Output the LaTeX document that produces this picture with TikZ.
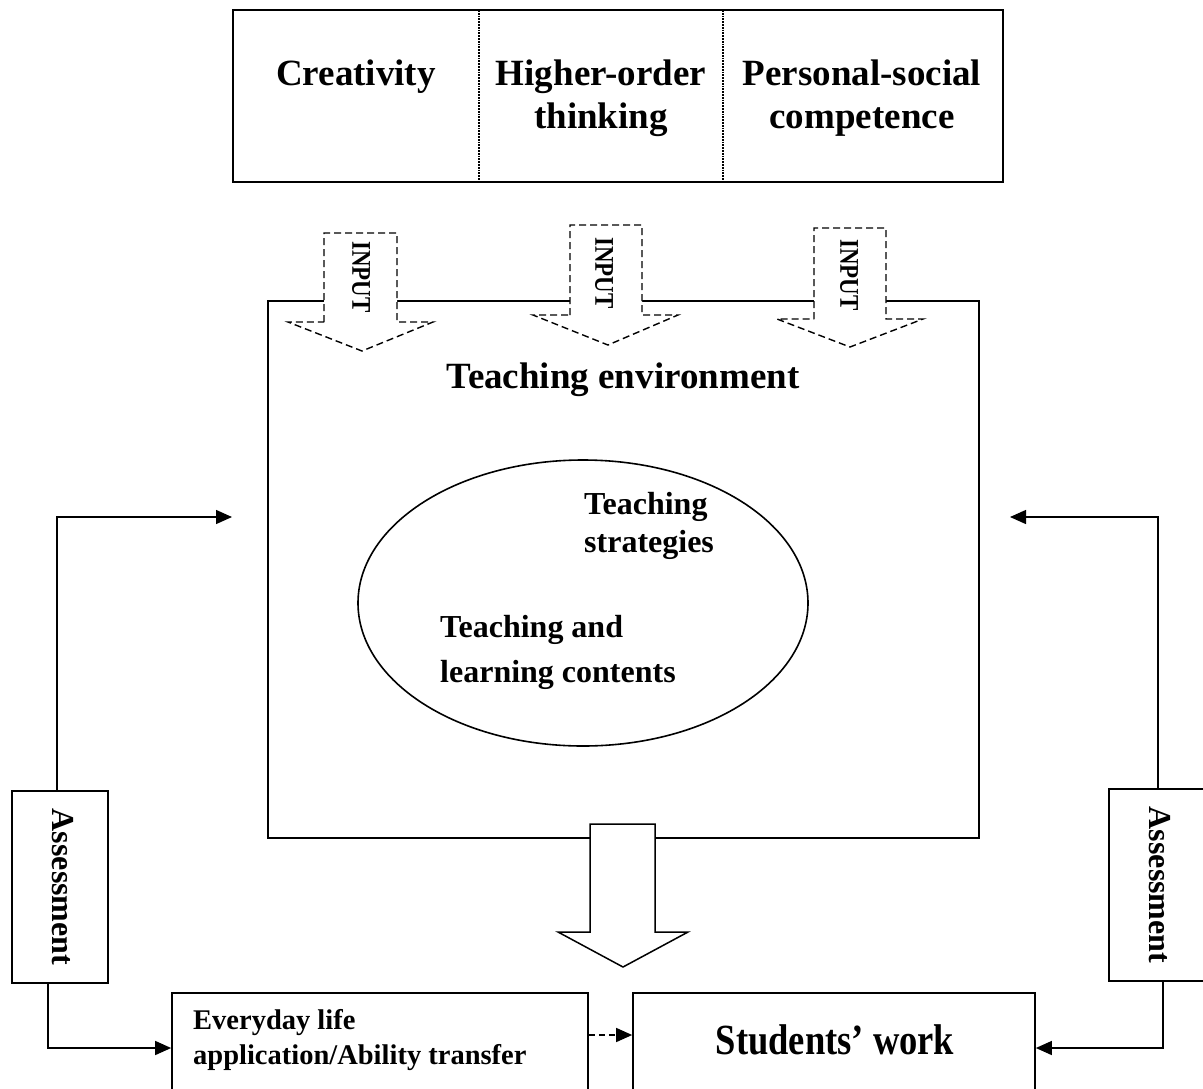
\documentclass[tikz,border=0pt]{standalone}
\usepackage{fontspec}
\setmainfont{Liberation Serif}
\newfontfamily\condfont[FakeStretch=0.85]{Liberation Serif}
\usetikzlibrary{arrows.meta,shapes.geometric}
\begin{document}
\begin{tikzpicture}[x=1pt,y=-1pt,
  box/.style={draw, line width=1.7pt, inner sep=0pt},
  txt/.style={inner sep=0pt, font=\bfseries},
  conn/.style={line width=1.4pt, -{Triangle[length=16pt,width=14pt]}},
  inarrow/.style={draw, dash pattern=on 7pt off 4pt, line width=1.4pt, fill=white},
  bigarrow/.style={draw, line width=1.5pt, fill=white}
]
\useasboundingbox (0,0) rectangle (1203,1088);
\clip (0,0) rectangle (1203,1088);

% top box
\node[box, minimum width=770pt, minimum height=172pt] (top) at (618,96) {};
\draw[densely dotted, line width=1.8pt] (479,10) -- (479,182);
\draw[densely dotted, line width=1.8pt] (723,10) -- (723,182);
\node[txt, font=\fontsize{37}{43}\selectfont\bfseries] (c1) at (356,77) {Creativity};
\node[txt, align=center, font=\fontsize{37}{43}\selectfont\bfseries] (c2) at (601,98.5) {Higher-order\\thinking};
\node[txt, align=center, font=\fontsize{37}{43}\selectfont\bfseries] (c3) at (862,98.5) {Personal-social\\competence};

% teaching environment box
\node[box, minimum width=711pt, minimum height=537pt] (env) at (623.5,569.5) {};
\node[txt, font=\fontsize{37}{43}\selectfont\bfseries] (envt) at (623,380) {Teaching environment};

% input arrows
\draw[inarrow] (324,322) -- (324,233) -- (397,233) -- (397,322) -- (433,322) -- (362,351) -- (288,322) -- cycle;
\draw[inarrow] (570,315) -- (570,225) -- (642,225) -- (642,315) -- (678,315) -- (608,345) -- (533,315) -- cycle;
\draw[inarrow] (814,319) -- (814,228) -- (886,228) -- (886,319) -- (923,319) -- (850,347) -- (777,319) -- cycle;
\node[txt, rotate=-90, font=\condfont\fontsize{27}{30}\selectfont\bfseries] (in1) at (361,277) {INPUT};
\node[txt, rotate=-90, font=\condfont\fontsize{27}{30}\selectfont\bfseries] (in2) at (604,273) {INPUT};
\node[txt, rotate=-90, font=\condfont\fontsize{27}{30}\selectfont\bfseries] (in3) at (849,275) {INPUT};

% ellipse
\node[draw, ellipse, line width=1.6pt, minimum width=450pt, minimum height=286pt, inner sep=0pt] (ell) at (583,603) {};
\node[txt, anchor=west, align=left, font=\fontsize{32}{38}\selectfont\bfseries] (ts) at (584,526) {Teaching\\strategies};
\node[txt, anchor=west, align=left, font=\fontsize{32}{45}\selectfont\bfseries] (tl) at (440,652) {Teaching and\\learning contents};

% big arrow
\draw[bigarrow] (590,824) -- (655,824) -- (655,932) -- (688,932) -- (623,967) -- (558,932) -- (590,932) -- cycle;

% assessment boxes
\node[box, minimum width=96pt, minimum height=192pt] (assL) at (60,887) {};
\node[txt, rotate=-90, font=\fontsize{32}{36}\selectfont\bfseries] (assLt) at (63,887) {Assessment};
\node[box, minimum width=106pt, minimum height=192pt] (assR) at (1162,885) {};
\node[txt, rotate=-90, font=\fontsize{32}{36}\selectfont\bfseries] (assRt) at (1160,885) {Assessment};

% bottom boxes
\node[box, minimum width=416pt, minimum height=110pt] (every) at (380,1048) {};
\node[txt, anchor=west, align=left, font=\fontsize{28.5}{35}\selectfont\bfseries] (everyt) at (193,1040) {Everyday life\\application/Ability transfer};
\node[box, minimum width=402pt, minimum height=110pt] (stud) at (834,1048) {};
\node[txt, font=\condfont\fontsize{43}{46}\selectfont\bfseries] (studt) at (835,1040) {Students’ work};

% connectors
\coordinate (lt) at (232,517);
\coordinate (rt) at (1010,517);
\draw[conn] ([xshift=-3pt]assL.north) |- (lt);
\draw[conn] ([xshift=-12pt]assL.south) |- (every.west);
\draw[conn] ([xshift=-4pt]assR.north) |- (rt);
\draw[conn] ([xshift=1pt]assR.south) |- (stud.east);
\draw[conn, dash pattern=on 6pt off 4pt] ([yshift=13pt]every.east) -- ([yshift=13pt]stud.west);
\end{tikzpicture}
\end{document}
